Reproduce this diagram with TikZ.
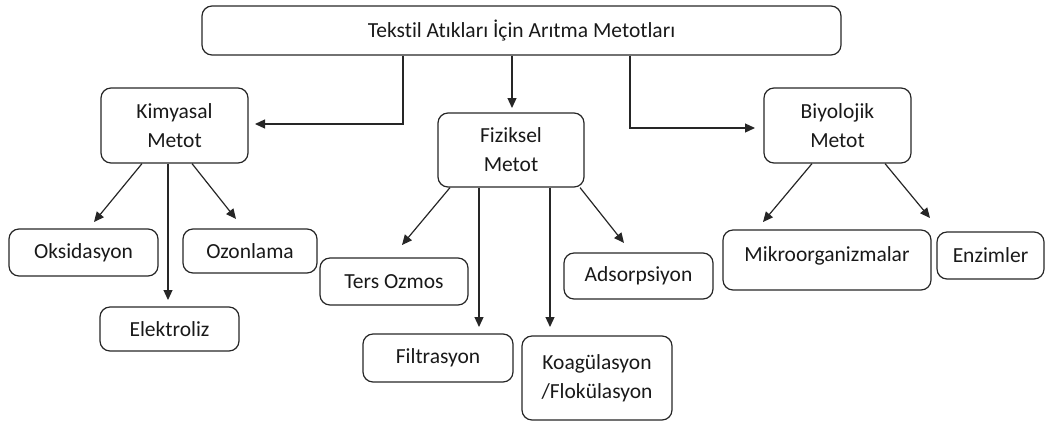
\documentclass[tikz,border=0pt]{standalone}
\usepackage{fontspec}
\setmainfont{Carlito}[Ligatures={TeX,NoCommon}]
\usetikzlibrary{arrows.meta}
\begin{document}
\begin{tikzpicture}[x=1pt, y=-1pt,
		box/.style={draw=black!85, line width=1.2pt, rounded corners=10pt, inner sep=0pt, align=center, text=black!90, font=\fontsize{21.5}{29}\selectfont},
		arr/.style={draw=black!85, line width=1.2pt, -{Triangle[length=10pt, width=9pt]}}]
		\useasboundingbox (0,0) rectangle (1046,424);
		
		\node[box, minimum width=639pt, minimum height=49pt] (top) at (521.5,30.5) {Tekstil Atıkları İçin Arıtma Metotları};
		
		\node[box, minimum width=147pt, minimum height=75pt] (kim) at (174.5,125.5) {Kimyasal\\Metot};
		\node[box, minimum width=146pt, minimum height=74pt] (fiz) at (511,150) {Fiziksel\\Metot};
		\node[box, minimum width=147pt, minimum height=75pt] (biy) at (837.5,125.5) {Biyolojik\\Metot};
		
		\node[box, minimum width=149pt, minimum height=47pt] (oks) at (83.5,252.5) {Oksidasyon};
		\node[box, minimum width=134pt, minimum height=44pt] (ozn) at (250,251) {Ozonlama};
		\node[box, minimum width=139pt, minimum height=44pt] (elk) at (169.5,329) {Elektroliz};
		
		\node[box, minimum width=148pt, minimum height=47pt] (ters) at (394,281.5) {Ters Ozmos};
		\node[box, minimum width=150pt, minimum height=48pt] (filt) at (438,358) {Filtrasyon};
		\node[box, minimum width=150pt, minimum height=84pt] (koag) at (597,378) {Koagülasyon\\/Flokülasyon};
		\node[box, minimum width=149pt, minimum height=46pt] (ads) at (638.5,276) {Adsorpsiyon};
		
		\node[box, minimum width=208pt, minimum height=60pt] (mik) at (827,260) {\raisebox{12pt}{Mikroorganizmalar}};
		\node[box, minimum width=107pt, minimum height=47pt] (enz) at (990.5,255.5) {Enzimler};
		
		% arrow tips
		\coordinate (kimTip) at (255,124);
		\coordinate (fizTip) at (512,108);
		\coordinate (biyTip) at (755,128);
		\coordinate (oksTip) at (94,222);
		\coordinate (elkTip) at (168,300);
		\coordinate (oznTip) at (236,219);
		\coordinate (tersTip) at (402,245);
		\coordinate (filtTip) at (479,327);
		\coordinate (koagTip) at (550,327);
		\coordinate (adsTip) at (624,243);
		\coordinate (mikTip) at (763,222);
		\coordinate (enzTip) at (930,218);
		
		\draw[arr] ([xshift=-118.5pt]top.south) |- (kimTip);
		\draw[arr] ([xshift=-9.5pt]top.south) -- (fizTip);
		\draw[arr] ([xshift=108.5pt]top.south) |- (biyTip);
		
		\draw[arr] ([xshift=-32.5pt]kim.south) -- (oksTip);
		\draw[arr] ([xshift=-6.5pt]kim.south) -- (elkTip);
		\draw[arr] ([xshift=17.5pt]kim.south) -- (oznTip);
		
		\draw[arr] ([xshift=-61pt]fiz.south) -- (tersTip);
		\draw[arr] ([xshift=-32pt]fiz.south) -- (filtTip);
		\draw[arr] ([xshift=39pt]fiz.south) -- (koagTip);
		\draw[arr] ([xshift=69pt]fiz.south) -- (adsTip);
		
		\draw[arr] ([xshift=-25.5pt]biy.south) -- (mikTip);
		\draw[arr] ([xshift=47.5pt]biy.south) -- (enzTip);
	\end{tikzpicture}
\end{document}
